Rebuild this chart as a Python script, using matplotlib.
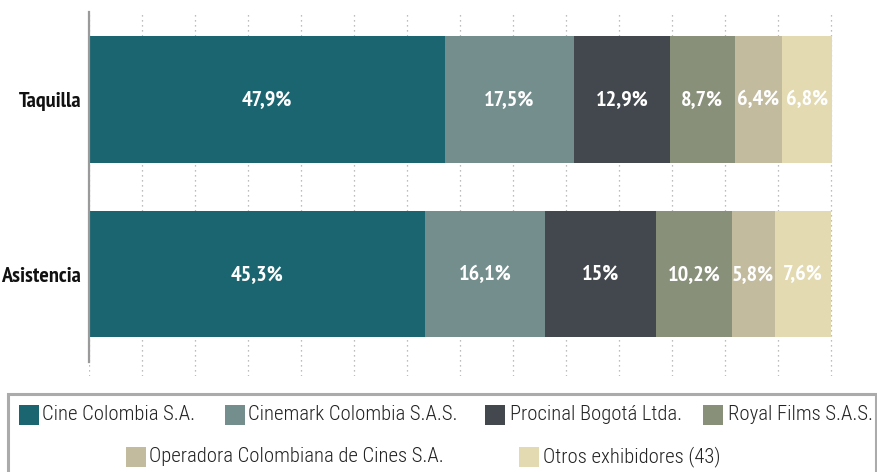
import matplotlib
matplotlib.use('Agg')
import matplotlib.pyplot as plt
from matplotlib.patches import Rectangle
from matplotlib import font_manager
import numpy as np

categories = ['Asistencia', 'Taquilla']
companies = ['Cine Colombia S.A.', 'Cinemark Colombia S.A.S.', 'Procinal Bogotá Ltda.',
             'Royal Films S.A.S.', 'Operadora Colombiana de Cines S.A.', 'Otros exhibidores (43)']
asistencia = [45.3, 16.1, 15, 10.2, 5.8, 7.6]
taquilla = [47.9, 17.5, 12.9, 8.7, 6.4, 6.8]
colors = ['#1b6570', '#748d8d', '#42484e', '#88907a', '#c3bb9e', '#e3dab1']

installed = {f.name for f in font_manager.fontManager.ttflist}


def pick(cands, fallback_size):
    # first condensed family that exists, else Liberation Sans at a smaller size
    for name, size in cands:
        if name in installed:
            return [name, 'DejaVu Sans'], size
    return ['Liberation Sans', 'DejaVu Sans'], fallback_size


bold_fam, bold_size = pick([('PT Sans Narrow', 16), ('Fira Sans Condensed', 14),
                            ('Archivo Narrow', 14.5)], 11.5)
leg_fam, leg_size = pick([('Roboto Condensed', 14.9), ('Archivo Narrow', 14.9),
                          ('Fira Sans Condensed', 13.7)], 12.6)

W, H = 878, 472
fig = plt.figure(figsize=(W / 100, H / 100), dpi=100)

# axes placed in pixel terms of the reference
ax = fig.add_axes([89.5 / W, 1 - 376 / H, 743.7 / W, 364 / H])

vals = np.array([asistencia, taquilla])
y = np.arange(len(categories))
left = np.zeros(len(categories))
for j in range(len(companies)):
    ax.barh(y, vals[:, j], left=left, height=0.725, color=colors[j], zorder=2)
    for i in range(len(categories)):
        txt = f'{vals[i, j]:g}%'.replace('.', ',')
        ax.text(left[i] + vals[i, j] / 2, y[i], txt, ha='center', va='center',
                color='white', fontsize=bold_size, fontweight='bold', family=bold_fam, zorder=3)
    left += vals[:, j]

ax.set_xlim(0, 100.3)
ax.set_ylim(-0.583, 1.5)
ax.set_xticks(np.linspace(0, 100, 15))
ax.xaxis.grid(True, linestyle=(0, (1, 3)), color='#a8a8a8', lw=0.9, zorder=0)
ax.set_axisbelow(True)
ax.tick_params(axis='x', length=0, labelbottom=False)
ax.set_yticks(y)
ax.set_yticklabels(categories, fontsize=bold_size, fontweight='bold', family=bold_fam,
                   color='#111111')
ax.tick_params(axis='y', length=0, pad=6)
for s in ['top', 'right', 'bottom']:
    ax.spines[s].set_visible(False)
ax.spines['left'].set_color('#9a9a9a')
ax.spines['left'].set_linewidth(1.6)
ax.spines['left'].set_bounds(-0.503, 1.5)

# legend box drawn by hand (two rows, second row centred)
fig.patches.append(Rectangle((8 / W, -0.05), 868 / W, 0.05 + 1 - 394 / H, fill=False,
                             edgecolor='#ababab', lw=2.2, transform=fig.transFigure))
sq_x = [19, 225, 485, 703, 126, 519]
tx_x = [42, 248, 510, 728, 149, 543]
row_y = [415, 415, 415, 415, 457, 457]
for k, name in enumerate(companies):
    fig.patches.append(Rectangle((sq_x[k] / W, 1 - (row_y[k] + 10) / H), 20 / W, 20 / H,
                                 facecolor=colors[k], edgecolor='none', transform=fig.transFigure))
    fig.text(tx_x[k] / W, 1 - row_y[k] / H, name, ha='left', va='center',
             fontsize=leg_size, family=leg_fam, fontweight='light', color='#222222')

fig.savefig('out.png', dpi=100)
